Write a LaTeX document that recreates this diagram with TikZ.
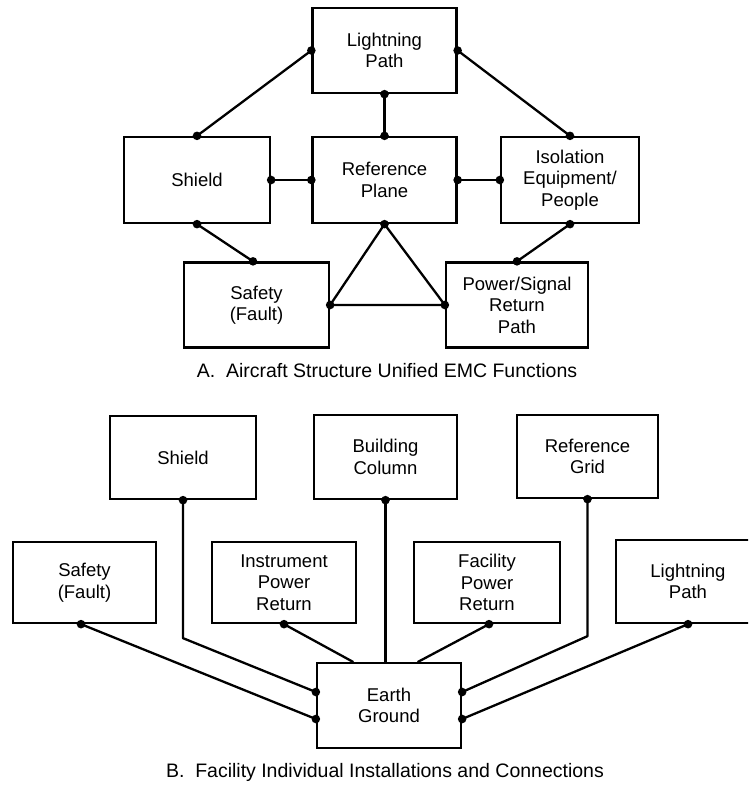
\documentclass[tikz,border=0pt]{standalone}
\usepackage{fontspec}
\setmainfont{Liberation Sans}
\usetikzlibrary{calc}
\newcommand{\bx}[6]{\node[box,minimum width=#4pt,minimum height=#5pt] (#1) at (#2,#3) {#6};}
\newcommand{\jdot}[1]{\fill (#1) circle (4.3pt);}
\begin{document}
\begin{tikzpicture}[x=1pt,y=-1pt,
  box/.style={draw, line width=2.3pt, inner sep=0pt, align=center, font=\fontsize{18.5}{21.5}\selectfont},
  conn/.style={line width=2.3pt, line join=round, line cap=round},
  captiontext/.style={anchor=base, font=\fontsize{19.5}{22}\selectfont}]
\useasboundingbox (0,0) rectangle (748,785);
\clip (0,0) rectangle (748,785);
\fill[white] (0,0) rectangle (748,785);
% ---------- Part A ----------
\bx{lpA}{384.5}{50.5}{144}{85}{Lightning\\Path}
\bx{shA}{197}{180}{146}{86}{Shield}
\bx{rpA}{384.5}{180}{144}{86}{Reference\\Plane}
\bx{isA}{570}{180}{138}{86}{Isolation\\Equipment/\\People}
\bx{sfA}{256.5}{305}{145}{85}{Safety\\(Fault)}
\bx{psA}{517}{305}{142}{85}{Power/Signal\\Return\\Path}
\coordinate (sfAn) at ($(sfA.north)+(-3.5,0)$);
\draw[conn] (lpA.west) -- (shA.north);
\draw[conn] (lpA.south) -- (rpA.north);
\draw[conn] (lpA.east) -- (isA.north);
\draw[conn] (shA.east) -- (rpA.west);
\draw[conn] (rpA.east) -- (isA.west);
\draw[conn] (shA.south) -- (sfAn);
\draw[conn] (isA.south) -- (psA.north);
\draw[conn] (sfA.east) -- (rpA.south) -- (psA.west) -- cycle;
\foreach \p in {lpA.west,lpA.south,lpA.east,shA.north,shA.east,shA.south,rpA.north,rpA.west,rpA.east,rpA.south,isA.north,isA.west,isA.south,sfAn,sfA.east,psA.north,psA.west}{\jdot{\p}}
\node[captiontext] (capA) at (387,377) {A.\hspace{0.55em}Aircraft Structure Unified EMC Functions};
% ---------- Part B ----------
\bx{shB}{183}{457.5}{146}{83}{Shield}
\bx{bcB}{385.5}{457}{143}{84}{Building\\Column}
\bx{rgB}{587.5}{456.5}{141}{83}{Reference\\Grid}
\bx{sfB}{84.5}{582.5}{143}{81}{Safety\\(Fault)}
\bx{inB}{284}{582.5}{144}{81}{Instrument\\Power\\Return}
\bx{fcB}{487}{582.5}{146}{81}{Facility\\Power\\Return}
\bx{lpB}{688}{581.5}{144}{83}{Lightning\\Path}
\bx{egB}{389}{705.5}{144}{85}{Earth\\Ground}
\coordinate (egWu) at ($(egB.west)+(0,-13.5)$);
\coordinate (egWl) at ($(egB.west)+(0,13.5)$);
\coordinate (egEu) at ($(egB.east)+(0,-13.5)$);
\coordinate (egEl) at ($(egB.east)+(0,13.5)$);
\coordinate (shBk) at ($(shB.south)+(0,138)$);
\coordinate (rgBk) at ($(rgB.south)+(0,137)$);
\coordinate (sfBd) at ($(sfB.south)+(-3.5,0)$);
\coordinate (fcBd) at ($(fcB.south)+(2,0)$);
\coordinate (egNi) at ($(egB.north)+(-36,0)$);
\coordinate (egNf) at ($(egB.north)+(29,0)$);
\draw[conn] (shB.south) -- (shBk) -- (egWu);
\draw[conn] (bcB.south) -- (bcB.south |- egB.north);
\draw[conn] (rgB.south) -- (rgBk) -- (egEu);
\draw[conn] (sfBd) -- (egWl);
\draw[conn] (inB.south) -- (egNi);
\draw[conn] (fcBd) -- (egNf);
\draw[conn] (lpB.south) -- (egEl);
\foreach \p in {shB.south,bcB.south,rgB.south,sfBd,inB.south,fcBd,lpB.south,egWu,egWl,egEu,egEl}{\jdot{\p}}
\node[captiontext] (capB) at (385,777) {B.\hspace{0.55em}Facility Individual Installations and Connections};
\end{tikzpicture}
\end{document}
